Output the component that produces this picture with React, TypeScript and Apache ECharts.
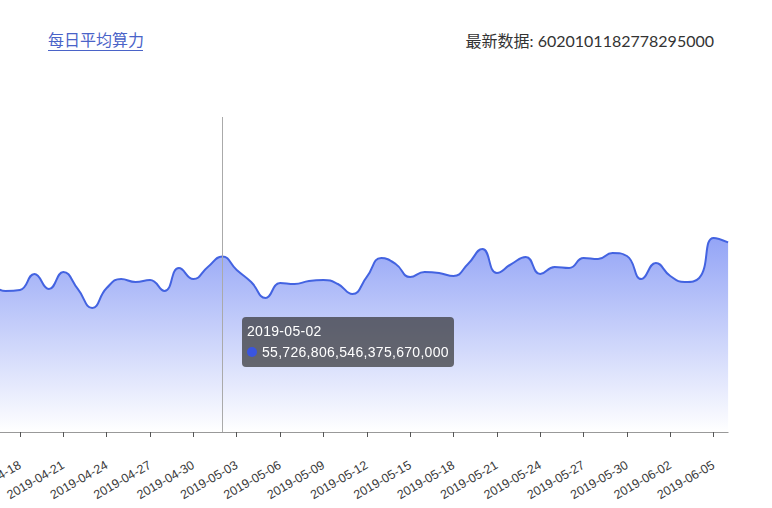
import React, { useEffect, useRef } from 'react';
import * as echarts from 'echarts';

const dates = [
  '2019-04-15', '2019-04-16', '2019-04-17', '2019-04-18', '2019-04-19', '2019-04-20',
  '2019-04-21', '2019-04-22', '2019-04-23', '2019-04-24', '2019-04-25', '2019-04-26',
  '2019-04-27', '2019-04-28', '2019-04-29', '2019-04-30', '2019-05-01', '2019-05-02',
  '2019-05-03', '2019-05-04', '2019-05-05', '2019-05-06', '2019-05-07', '2019-05-08',
  '2019-05-09', '2019-05-10', '2019-05-11', '2019-05-12', '2019-05-13', '2019-05-14',
  '2019-05-15', '2019-05-16', '2019-05-17', '2019-05-18', '2019-05-19', '2019-05-20',
  '2019-05-21', '2019-05-22', '2019-05-23', '2019-05-24', '2019-05-25', '2019-05-26',
  '2019-05-27', '2019-05-28', '2019-05-29', '2019-05-30', '2019-05-31', '2019-06-01',
  '2019-06-02', '2019-06-03', '2019-06-04', '2019-06-05', '2019-06-06',
];

const hashRate = [
  48.25e18, 46.67e18, 44.76e18, 45.08e18, 50.16e18, 45.40e18,
  50.79e18, 45.40e18, 39.37e18, 45.71e18, 48.57e18, 47.62e18,
  48.25e18, 44.76e18, 52.06e18, 48.57e18, 52.38e18, 55726806546375670000,
  51.43e18, 47.62e18, 42.54e18, 47.30e18, 46.98e18, 47.94e18,
  48.25e18, 46.98e18, 43.81e18, 49.21e18, 55.24e18, 53.33e18,
  49.21e18, 50.79e18, 50.48e18, 49.52e18, 53.33e18, 58.10e18,
  50.48e18, 53.33e18, 55.56e18, 50.16e18, 52.38e18, 52.06e18,
  55.24e18, 54.92e18, 56.83e18, 55.87e18, 48.57e18, 53.65e18,
  49.52e18, 47.62e18, 48.89e18, 61.59e18, 60201011827782950000,
];

const titleText = '每日平均算力';
const latestText = '最新数据: 6020101182778295000';
const highlightedIndex = 17;

const FONT = "'Liberation Sans', Arial, 'Noto Sans CJK SC', sans-serif";
const WIDE_FONT = "Lato, 'Liberation Sans', 'Noto Sans CJK SC', sans-serif";

export default function App() {
  const ref = useRef<HTMLDivElement>(null);

  useEffect(() => {
    document.body.style.margin = '0';
    const chart = echarts.init(ref.current!, null, { renderer: 'svg' });
    chart.setOption({
      animation: false,
      textStyle: { fontFamily: FONT },
      grid: {
        left: -23.4,
        right: 43.9,
        top: 117,
        bottom: 76,
        containLabel: false,
        outerBoundsMode: 'none',
      },
      graphic: [
        {
          type: 'text',
          left: 48,
          top: 32,
          style: { text: titleText, fill: '#4a63c8', font: `16px ${FONT}` },
        },
        {
          type: 'line',
          shape: { x1: 48, y1: 50.5, x2: 143, y2: 50.5 },
          style: { stroke: '#4a63c8', lineWidth: 1 },
        },
        {
          type: 'text',
          right: 58,
          top: 32,
          style: { text: latestText, fill: '#333', font: `16px ${WIDE_FONT}` },
        },
      ],
      tooltip: {
        trigger: 'axis',
        alwaysShowContent: true,
        transitionDuration: 0,
        position: [242, 317],
        backgroundColor: 'rgba(50,50,50,0.7)',
        borderWidth: 0,
        borderRadius: 4,
        padding: [4, 5],
        textStyle: { color: '#fff', fontSize: 14, fontFamily: FONT },
        extraCssText: 'box-shadow:none;',
        axisPointer: {
          type: 'line',
          lineStyle: { color: '#aaa', width: 1, type: 'solid' },
        },
        formatter: (params: any) => {
          const p = params[0];
          return (
            `<div style="line-height:21px;font-size:14px;color:#fff;letter-spacing:0.3px">${p.axisValue}<br/>` +
            `<span style="display:inline-block;margin-right:5px;border-radius:10px;width:10px;height:10px;background-color:#3a55e0;"></span>` +
            `${echarts.format.addCommas(p.value)}</div>`
          );
        },
      },
      xAxis: {
        type: 'category',
        data: dates,
        boundaryGap: false,
        axisLine: { lineStyle: { color: '#999' } },
        axisTick: { interval: 2, length: 5, lineStyle: { color: '#555' } },
        axisLabel: { interval: 2, rotate: 30, color: '#3a3a3a', fontSize: 12.5, margin: 32 },
      },
      yAxis: {
        type: 'value',
        min: 0,
        max: 1e20,
        show: false,
        splitLine: { show: false },
      },
      series: [
        {
          type: 'line',
          data: hashRate,
          smooth: true,
          symbol: 'none',
          color: '#3a55e0',
          lineStyle: { color: '#3d5acd', width: 2 },
          areaStyle: {
            color: new echarts.graphic.LinearGradient(0, 0, 0, 1, [
              { offset: 0, color: '#5d73dc' },
              { offset: 1, color: '#f8f8fd' },
            ]),
          },
        },
      ],
    });
    chart.dispatchAction({ type: 'showTip', seriesIndex: 0, dataIndex: highlightedIndex });
    return () => chart.dispose();
  }, []);

  return <div ref={ref} style={{ width: 772, height: 508 }} />;
}
